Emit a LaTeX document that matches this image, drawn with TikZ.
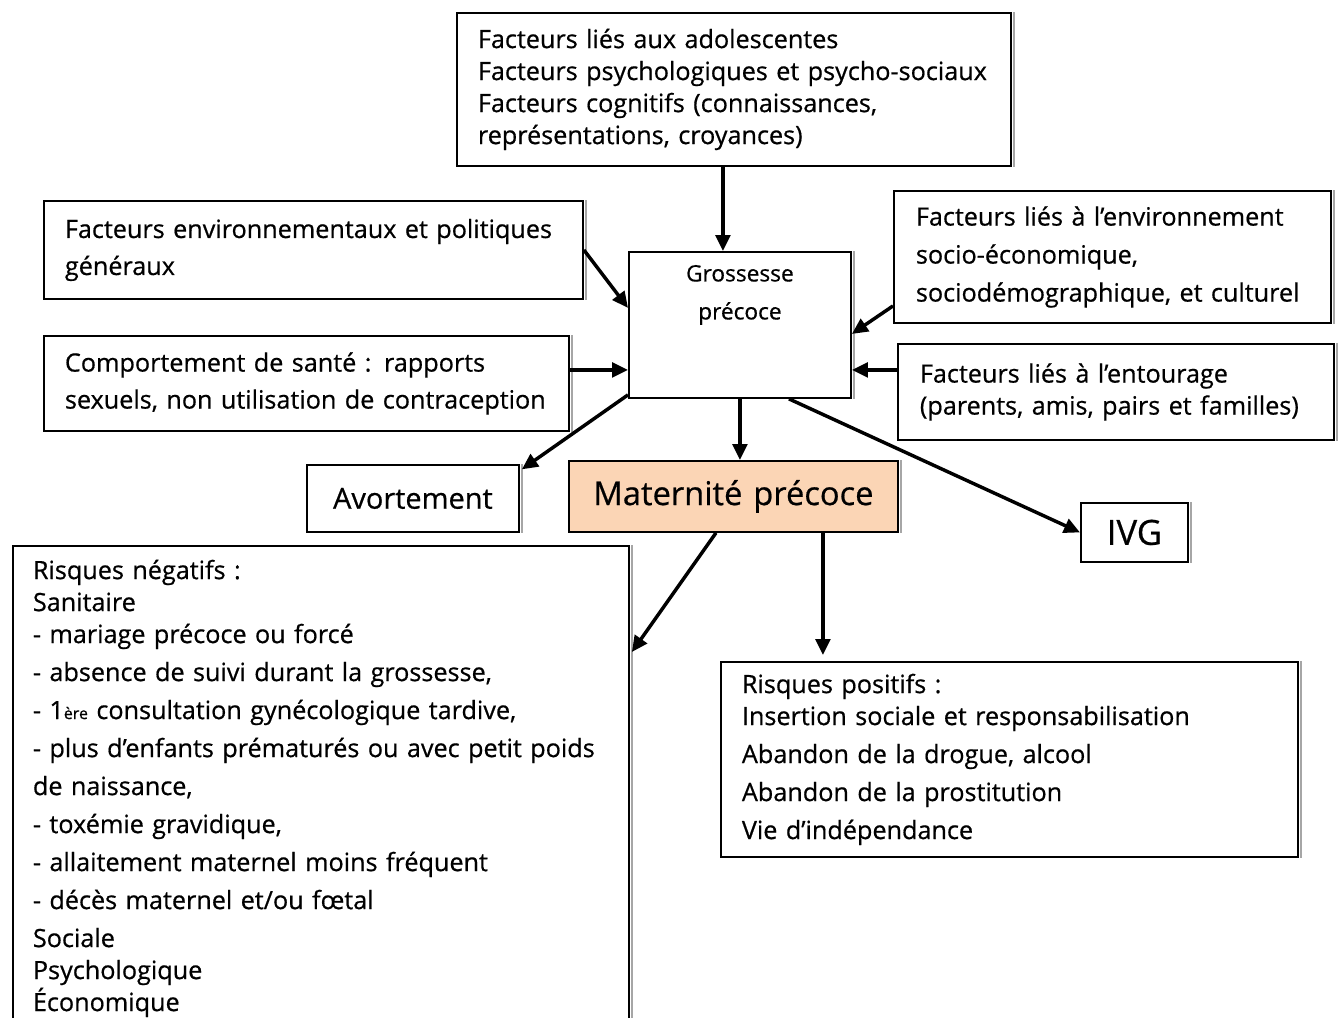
\documentclass[tikz,border=0pt]{standalone}
\usepackage{fontspec}
\setmainfont{Open Sans}[FakeBold=0.6]
\usetikzlibrary{arrows.meta,calc}
\definecolor{peach}{HTML}{FBD5B5}
\begin{document}
\begin{tikzpicture}[x=0.75pt,y=-0.75pt,
  box/.style={draw, line width=1.4pt, anchor=north west, inner xsep=15.75pt, inner ysep=0pt, align=left},
  body/.style={font=\fontsize{18.9}{24}\selectfont},
  bodyw/.style={font=\fontsize{18.9}{27.75}\selectfont},
  arr/.style={line width=2.6pt, -{Triangle[length=12pt,width=11pt]}},
  shade/.style={draw=gray!70, line width=1.2pt}]
\useasboundingbox (0,0) rectangle (1340,1018);

% boxes
\node[box, body, minimum width=415.5pt, minimum height=114.75pt, text width=384pt] (top) at (456,12)
 {Facteurs liés aux adolescentes\\Facteurs psychologiques et psycho-sociaux\\Facteurs cognitifs (connaissances,\\représentations, croyances)};
\node[box, bodyw, minimum width=404.25pt, minimum height=73.5pt, text width=372.75pt] (env) at (43,200)
 {Facteurs environnementaux et politiques\\généraux};
\node[box, font=\fontsize{17}{28.5}\selectfont, align=center, inner xsep=0pt, minimum width=166.5pt, minimum height=109.5pt, text width=166.5pt] (gros) at (628,251)
 {Grossesse\\précoce\\[12pt]\strut};
\node[box, font=\fontsize{18.9}{28.5}\selectfont, inner xsep=16.5pt, minimum width=327.75pt, minimum height=99pt, text width=294.75pt] (r1) at (893,190)
 {Facteurs liés à l’environnement\\socio-économique,\\sociodémographique, et culturel};
\node[box, bodyw, minimum width=393.75pt, minimum height=71.25pt, text width=362.25pt] (comp) at (43,335)
 {Comportement de santé : rapports\\sexuels, non utilisation de contraception};
\node[box, body, inner xsep=16.5pt, minimum width=327pt, minimum height=72pt, text width=294pt] (r2) at (897,343)
 {Facteurs liés à l’entourage\\(parents, amis, pairs et familles)};
\node[box, font=\fontsize{21.7}{24}\selectfont, align=center, inner xsep=0pt, minimum width=159pt, minimum height=50.25pt, text width=159pt] (avort) at (306,464)
 {Avortement};
\node[box, fill=peach, font=\fontsize{24.5}{28}\selectfont, align=center, inner xsep=0pt, minimum width=246.75pt, minimum height=53.25pt, text width=246.75pt] (mat) at (568,460)
 {Maternité précoce};
\node[box, font=\fontsize{26}{28}\selectfont, align=center, inner xsep=0pt, minimum width=80.25pt, minimum height=44.25pt, text width=80.25pt] (ivg) at (1080,502)
 {IVG};
\node[box, body, inner xsep=15pt, minimum width=462pt, minimum height=363.75pt, text width=432pt] (neg) at (12,545)
 {Risques négatifs :\\Sanitaire\\- mariage précoce ou forcé\\[4.5pt]
  - absence de suivi durant la grossesse,\\[4.5pt]
  - 1{\fontsize{12}{12}\selectfont ère} consultation gynécologique tardive,\\[4.5pt]
  - plus d’enfants prématurés ou avec petit poids\\[4.5pt]
  de naissance,\\[4.5pt]
  - toxémie gravidique,\\[4.5pt]
  - allaitement maternel moins fréquent\\[4.5pt]
  - décès maternel et/ou fœtal\\[4.5pt]
  Sociale\\Psychologique\\Économique};
\node[box, body, minimum width=432.75pt, minimum height=146.25pt, text width=401.25pt] (pos) at (720,661)
 {Risques positifs :\\Insertion sociale et responsabilisation\\[4.5pt]
  Abandon de la drogue, alcool\\[4.5pt]
  Abandon de la prostitution\\[4.5pt]
  Vie d’indépendance};

% right-edge shadows
\foreach \n in {top,env,gros,r1,comp,r2,avort,mat,ivg,neg,pos}
  \draw[shade] ([xshift=1.6pt]\n.north east) -- ([xshift=1.6pt]\n.south east);

% arrows
\draw[arr] ([xshift=-8.25pt]top.south) -- ([xshift=-8.25pt]top.south |- gros.north);
\draw[arr] (env.east) -- ([yshift=12.75pt]gros.west);
\draw[arr] ([yshift=10.1pt]comp.east) -- ([yshift=10.1pt]comp.east -| gros.west);
\draw[arr] ([yshift=-36.75pt]r1.west) -- ([yshift=-6.75pt]gros.east);
\draw[arr] ([yshift=16.5pt]r2.west) -- ([yshift=16.5pt]r2.west -| gros.east);
\draw[arr] (gros.south) -- (gros.south |- mat.north);
\draw[arr] ([yshift=3pt]gros.south west) -- ([shift={(1.5pt,-4pt)}]avort.north east);
\draw[arr] ([xshift=36.75pt]gros.south) -- (ivg.west);
\draw[arr] ([xshift=-13.1pt]mat.south) -- ([shift={(1.5pt,-80.25pt)}]neg.north east);
\draw[arr] ([xshift=67.1pt]mat.south) -- ([xshift=67.1pt,yshift=4.5pt]mat.south |- pos.north);
\end{tikzpicture}
\end{document}
